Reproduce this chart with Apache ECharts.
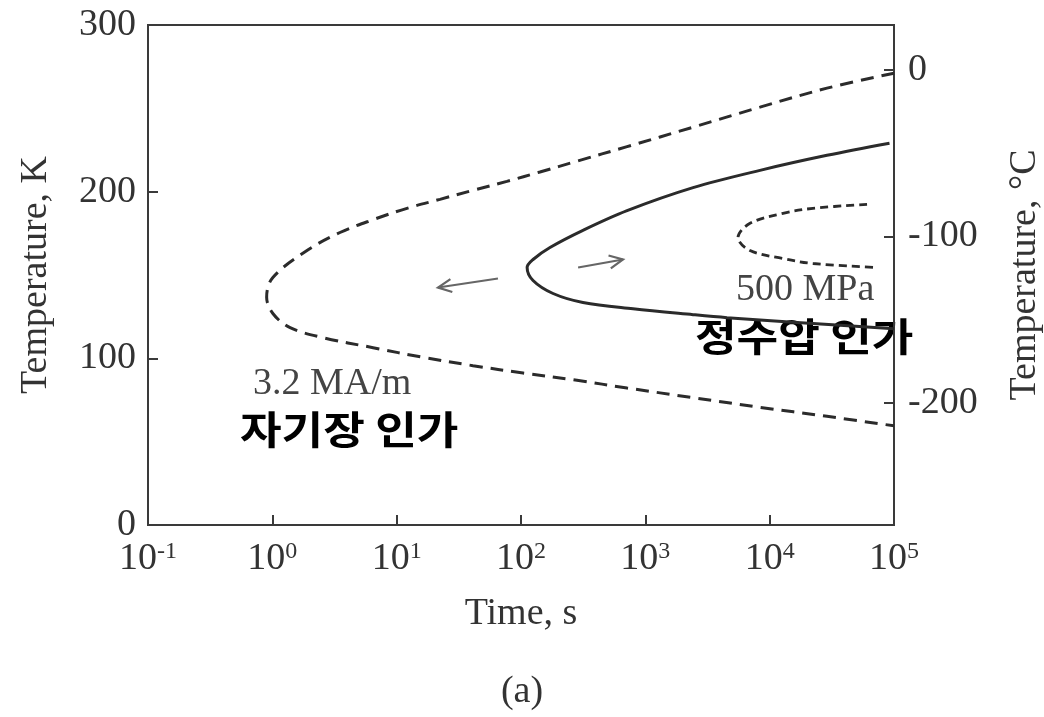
<!DOCTYPE html>
<html>
<head>
<meta charset="utf-8">
<script src="https://cdn.jsdelivr.net/npm/echarts@6/dist/echarts.min.js"></script>
<style>
  html, body { margin: 0; padding: 0; background: #ffffff; }
  #chart { width: 1044px; height: 717px; }
</style>
</head>
<body>
<div id="chart"></div>
<script>
// Time axis decades (exponents of 10) and temperature ticks
const timeExponents = [-1, 0, 1, 2, 3, 4, 5];
const kelvinTicks = [0, 100, 200, 300];
const celsiusTicks = [0, -100, -200];

// C-curves: [time (s), temperature (K)]
const fieldCurve = [ // 3.2 MA/m, dashed outer curve
  [100000, 271.1], [28900, 262.1], [8360, 250.7], [2420, 238.7], [713, 227.0],
  [282, 218.3], [142, 211.8], [77, 206.2], [41, 200.8], [22.3, 195.4],
  [12.1, 190.0], [6.46, 183.2], [3.5, 175.5], [1.9, 164.7], [1.01, 148.5],
  [0.90, 136.7], [1.01, 126.9], [1.39, 118.4], [2.56, 112.4], [6.46, 106.4],
  [16.3, 100.6], [41.1, 95.6], [104, 91.2], [282, 86.8], [713, 82.2],
  [2420, 76.4], [8360, 70.6], [28900, 65.2], [100000, 59.5]
];
const baseCurve = [ // solid reference curve
  [92000, 229.1], [28900, 221.8], [8360, 212.8], [2420, 202.4], [713, 188.6],
  [315, 176.8], [171, 166.5], [125, 159.3], [112, 154.5], [125, 146.7],
  [181, 138.9], [315, 133.5], [796, 129.7], [2420, 126.2], [4540, 124.4],
  [15400, 121.6], [100000, 117.8]
];
const pressureCurve = [ // 500 MPa, short dashed inner curve
  [60700, 192.4], [22300, 190.0], [12800, 187.0], [6950, 181.0], [5560, 172.5],
  [6950, 164.7], [12800, 159.9], [22300, 156.9], [73000, 154.5]
];
// Shift arrows: [t0, K0, t1, K1]
const shiftArrows = [
  [65.3, 147.9, 21.5, 142.5],
  [288, 154.5, 661, 159.3]
];

const serif = '"Liberation Serif", "DejaVu Serif", serif';
const kr = '"Noto Sans CJK KR", sans-serif';
const ink = '#2b2b2b';

const chart = echarts.init(document.getElementById('chart'), null, { renderer: 'canvas' });

chart.setOption({
  animation: false,
  backgroundColor: '#ffffff',
  grid: {
    left: 148, right: 150, top: 25, bottom: 192,
    outerBoundsMode: 'none',
    show: true, borderColor: '#3a3a3a', borderWidth: 2, backgroundColor: 'transparent'
  },
  xAxis: {
    type: 'log', logBase: 10,
    min: Math.pow(10, timeExponents[0]),
    max: Math.pow(10, timeExponents[timeExponents.length - 1]),
    interval: 1,
    name: 'Time, s', nameLocation: 'middle', nameGap: 70,
    nameTextStyle: { fontFamily: serif, fontSize: 38, color: '#333' },
    axisLine: { show: true, lineStyle: { color: '#3a3a3a', width: 2 } },
    axisTick: { show: true, inside: true, length: 10, lineStyle: { color: '#3a3a3a', width: 2 } },
    splitLine: { show: false },
    axisLabel: {
      margin: 15,
      formatter: function (v) {
        const e = Math.round(Math.log10(v));
        return '{b|10}{s|' + e + '}';
      },
      rich: {
        b: { fontFamily: serif, fontSize: 38, color: '#333' },
        s: { fontFamily: serif, fontSize: 24, color: '#333', verticalAlign: 'bottom', padding: [0, 0, 14, 0] }
      }
    }
  },
  yAxis: [
    {
      type: 'value', min: kelvinTicks[0], max: kelvinTicks[kelvinTicks.length - 1], interval: 100,
      name: 'Temperature, K', nameLocation: 'middle', nameGap: 93, nameRotate: 90,
      nameTextStyle: { fontFamily: serif, fontSize: 38, color: '#333' },
      axisLine: { show: true, lineStyle: { color: '#3a3a3a', width: 2 } },
      axisTick: { show: true, inside: true, length: 10, lineStyle: { color: '#3a3a3a', width: 2 } },
      splitLine: { show: false },
      axisLabel: { margin: 12, fontFamily: serif, fontSize: 38, color: '#333' }
    },
    {
      type: 'value', position: 'right', min: -273.15, max: 26.85,
      name: 'Temperature, °C', nameLocation: 'middle', nameGap: 112, nameRotate: 90,
      nameTextStyle: { fontFamily: serif, fontSize: 38, color: '#333' },
      axisLine: { show: true, lineStyle: { color: '#3a3a3a', width: 2 } },
      axisTick: { show: true, inside: true, length: 10, customValues: celsiusTicks, lineStyle: { color: '#3a3a3a', width: 2 } },
      splitLine: { show: false },
      axisLabel: { margin: 14, customValues: celsiusTicks, fontFamily: serif, fontSize: 38, color: '#333' }
    }
  ],
  series: [
    {
      name: '3.2 MA/m', type: 'line', data: fieldCurve, smooth: 0.35, symbol: 'none',
      lineStyle: { color: ink, width: 3, type: [13, 8] }
    },
    {
      name: 'base', type: 'line', data: baseCurve, smooth: 0.35, symbol: 'none',
      lineStyle: { color: ink, width: 3, type: 'solid' }
    },
    {
      name: '500 MPa', type: 'line', data: pressureCurve, smooth: 0.35, symbol: 'none',
      lineStyle: { color: ink, width: 2.8, type: [8, 5] }
    },
    {
      name: 'arrows', type: 'custom', data: shiftArrows,
      encode: { x: [0, 2], y: [1, 3] },
      renderItem: function (params, api) {
        const p0 = api.coord([api.value(0), api.value(1)]);
        const p1 = api.coord([api.value(2), api.value(3)]);
        const a = Math.atan2(p1[1] - p0[1], p1[0] - p0[0]);
        const len = 15, spread = 0.45;
        const h1 = [p1[0] - len * Math.cos(a - spread), p1[1] - len * Math.sin(a - spread)];
        const h2 = [p1[0] - len * Math.cos(a + spread), p1[1] - len * Math.sin(a + spread)];
        const st = { stroke: '#666', lineWidth: 2.2, fill: null };
        return {
          type: 'group',
          children: [
            { type: 'line', shape: { x1: p0[0], y1: p0[1], x2: p1[0], y2: p1[1] }, style: st },
            { type: 'polyline', shape: { points: [h1, p1, h2] }, style: st }
          ]
        };
      }
    }
  ],
  graphic: [
    { type: 'text', x: 253, y: 384, style: { text: '3.2 MA/m', font: '38px ' + serif, fill: '#444', align: 'left', verticalAlign: 'middle' } },
    { type: 'text', x: 240, y: 429, scaleX: 1.16, style: { text: '자기장 인가', font: 'bold 39px ' + kr, fill: '#000', align: 'left', verticalAlign: 'middle' } },
    { type: 'text', x: 736, y: 290, style: { text: '500 MPa', font: '38px ' + serif, fill: '#444', align: 'left', verticalAlign: 'middle' } },
    { type: 'text', x: 695, y: 336, scaleX: 1.16, style: { text: '정수압 인가', font: 'bold 39px ' + kr, fill: '#000', align: 'left', verticalAlign: 'middle' } },
    { type: 'text', x: 522, y: 692, style: { text: '(a)', font: '38px ' + serif, fill: '#333', align: 'center', verticalAlign: 'middle' } }
  ]
});
</script>
</body>
</html>
